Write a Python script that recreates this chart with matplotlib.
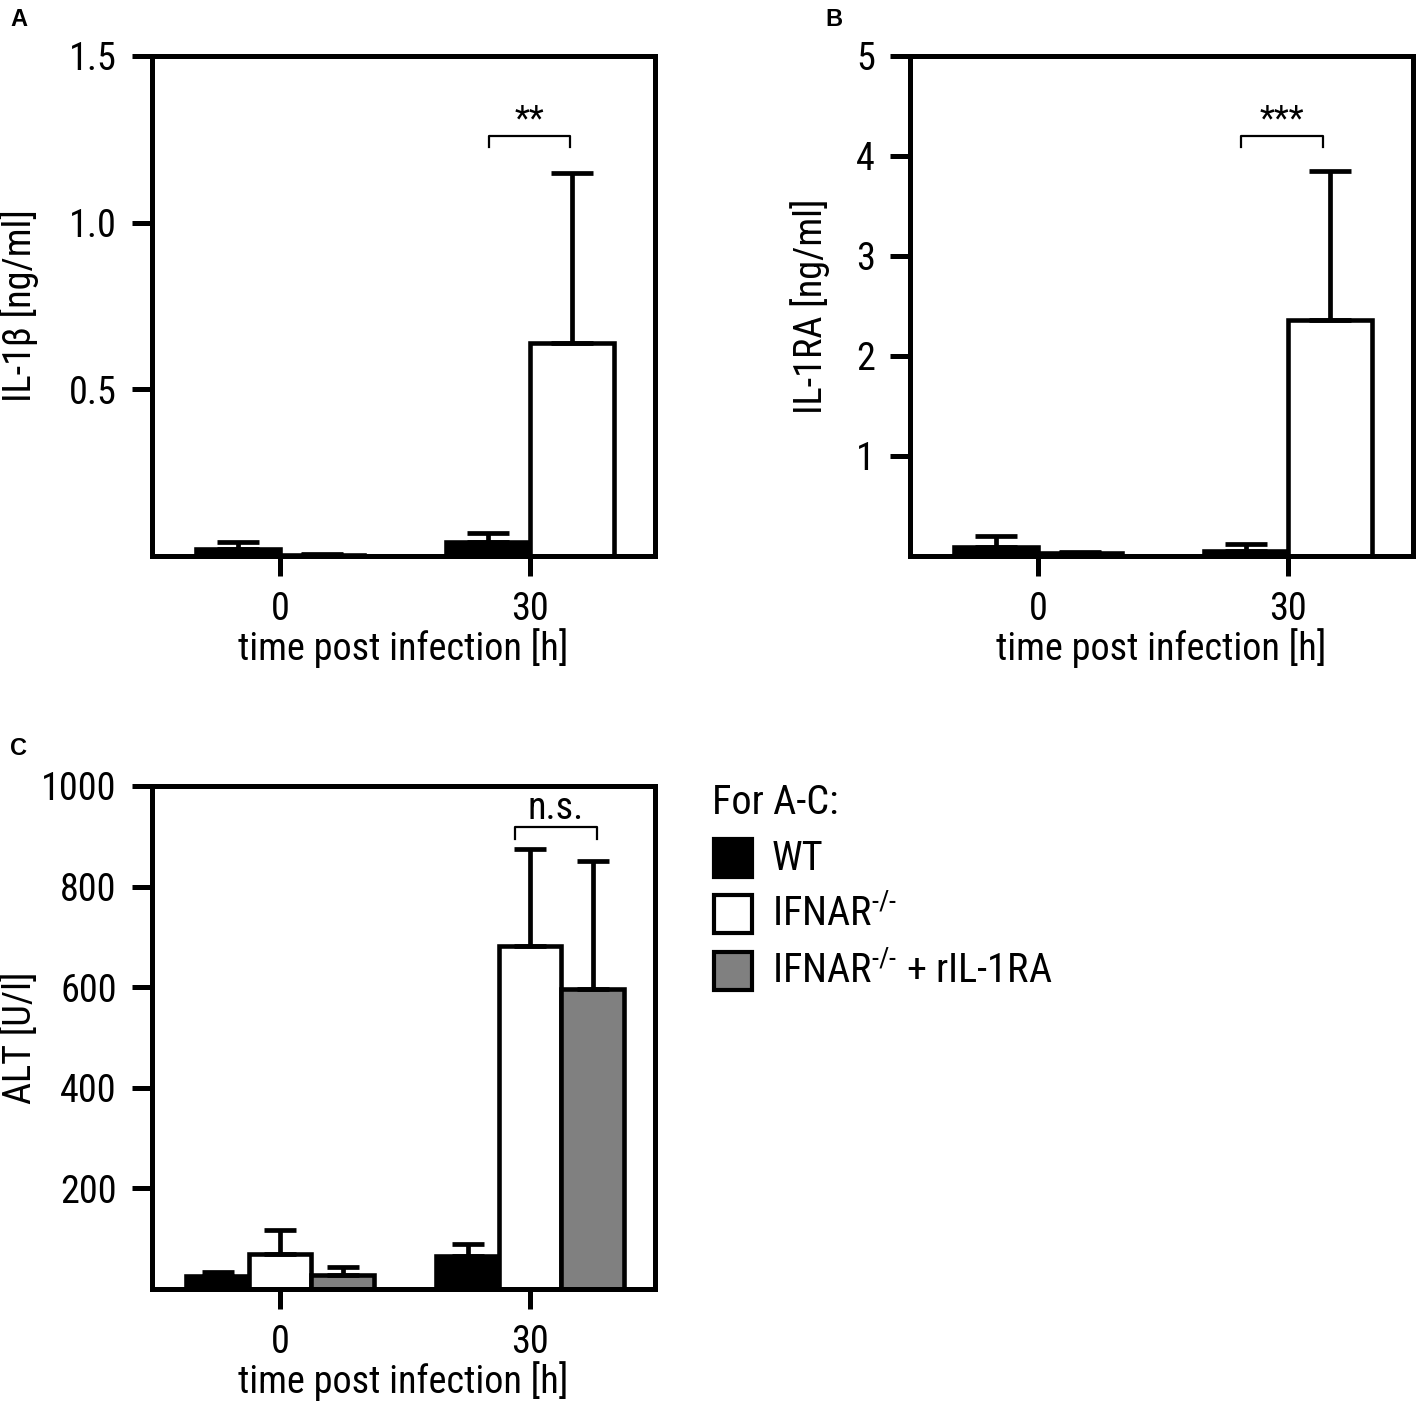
import matplotlib
matplotlib.use("Agg")
import matplotlib.pyplot as plt
from matplotlib import font_manager as fm
from matplotlib.patches import Rectangle
import numpy as np

# ---------------- data ----------------
time_labels = ["0", "30"]
groups = ["WT", r"IFNAR$^{\text{-/-}}$", r"IFNAR$^{\text{-/-}}$ + rIL-1RA"]
colors = ["black", "white", "#808080"]

il1b_wt = [0.022, 0.042]
il1b_wt_err = [0.02, 0.027]
il1b_ifnar = [0.003, 0.64]
il1b_ifnar_err = [0.004, 0.51]

il1ra_wt = [0.09, 0.055]
il1ra_wt_err = [0.11, 0.065]
il1ra_ifnar = [0.03, 2.36]
il1ra_ifnar_err = [0.01, 1.49]

alt_wt = [26, 66]
alt_wt_err = [8, 24]
alt_ifnar = [70, 682]
alt_ifnar_err = [47, 192]
alt_rescue = [27, 597]
alt_rescue_err = [16, 253]

# ---------------- fonts ----------------
names = {f.name for f in fm.fontManager.ttflist}
candidates = ["Nimbus Sans Narrow", "Liberation Sans Narrow", "Arial Narrow",
              "Roboto Condensed", "Archivo Narrow", "PT Sans Narrow",
              "Pragati Narrow", "Liberation Sans"]
narrow = next(c for c in candidates if c in names)
plt.rcParams["font.family"] = [narrow, "DejaVu Sans"]
plt.rcParams["mathtext.fontset"] = "custom"
plt.rcParams["mathtext.rm"] = narrow
plt.rcParams["mathtext.it"] = narrow
plt.rcParams["mathtext.bf"] = narrow

FS = 27.5
FS_LEG = 29
W, H = 1417, 1402
fig = plt.figure(figsize=(W / 100, H / 100), dpi=100)


def px_axes(left, top, right, bottom):
    return fig.add_axes([left / W, 1 - bottom / H, (right - left) / W, (bottom - top) / H])


def style(ax, ylim, yticks, ylabels, ylabel, ylabel_x):
    for s in ax.spines.values():
        s.set_linewidth(3.6)
        s.set_zorder(5)
    ax.set_xlim(-0.512, 1.5)
    ax.set_ylim(*ylim)
    ax.set_yticks(yticks)
    ax.set_yticklabels(ylabels)
    ax.set_xticks([0, 1])
    ax.set_xticklabels(time_labels)
    ax.tick_params(axis="both", direction="out", length=14.4, width=3.6,
                   labelsize=FS, pad=11)
    ax.tick_params(axis="x", pad=11)
    ax.set_xlabel("time post infection [h]", fontsize=FS, labelpad=0)
    ax.set_ylabel(ylabel, fontsize=FS)
    ax.yaxis.set_label_coords(ylabel_x, 0.5)


def bars(ax, xs, vals, errs, color, width, capsize):
    ax.bar(xs, vals, width=width, color=color, edgecolor="black",
           linewidth=3.3, zorder=2)
    ax.errorbar(xs, vals, yerr=[np.zeros(len(vals)), errs], fmt="none",
                ecolor="black", elinewidth=3.4, capsize=capsize, capthick=3.4,
                zorder=3)


def bracket(ax, x0, x1, ytop, leg, text, fs, dy=0):
    ax.plot([x0, x0, x1, x1], [ytop - leg, ytop, ytop, ytop - leg],
            color="black", lw=1.6, zorder=4, clip_on=False)
    ax.text((x0 + x1) / 2, ytop + dy, text, ha="center", va="bottom", fontsize=fs)


x = np.arange(len(time_labels))

# ---------------- panel A ----------------
axA = px_axes(152, 56, 655, 556)
wA = 0.336
bars(axA, x - wA / 2, il1b_wt, il1b_wt_err, colors[0], wA, 14.8)
bars(axA, x + wA / 2, il1b_ifnar, il1b_ifnar_err, colors[1], wA, 14.8)
style(axA, (0, 1.5), [0.5, 1.0, 1.5], ["0.5", "1.0", "1.5"],
      "IL-1β [ng/ml]", -0.225)
bracket(axA, 0.836, 1.16, 1.26, 0.033, "**", 25)

# ---------------- panel B ----------------
axB = px_axes(910, 56, 1413, 556)
bars(axB, x - wA / 2, il1ra_wt, il1ra_wt_err, colors[0], wA, 14.8)
bars(axB, x + wA / 2, il1ra_ifnar, il1ra_ifnar_err, colors[1], wA, 14.8)
style(axB, (0, 5), [1, 2, 3, 4, 5], ["1", "2", "3", "4", "5"],
      "IL-1RA [ng/ml]", -0.159)
bracket(axB, 0.812, 1.14, 4.2, 0.11, "***", 25)

# ---------------- panel C ----------------
axC = px_axes(152, 786, 655, 1289)
wC = 0.25
bars(axC, x - wC, alt_wt, alt_wt_err, colors[0], wC, 11.3)
bars(axC, x, alt_ifnar, alt_ifnar_err, colors[1], wC, 11.3)
bars(axC, x + wC, alt_rescue, alt_rescue_err, colors[2], wC, 11.3)
style(axC, (0, 1000), [200, 400, 600, 800, 1000],
      ["200", "400", "600", "800", "1000"], "ALT [U/l]", -0.225)
bracket(axC, 0.94, 1.268, 918, 24, "n.s.", FS)

# ---------------- panel letters ----------------
for lab, px, py in [("A", 10, 8), ("B", 825, 8), ("C", 10, 737)]:
    fig.text(px / W, 1 - py / H, lab, ha="left", va="top", fontsize=17,
             fontweight="bold", family=["Liberation Sans", "DejaVu Sans"])

# ---------------- legend ----------------
fig.text(712 / W, 1 - 803 / H, "For A-C:", ha="left", va="center", fontsize=FS_LEG)
for i, (g, c) in enumerate(zip(groups, colors)):
    yc = [858, 914, 971][i]
    fig.add_artist(Rectangle((714 / W, 1 - (yc + 19) / H), 38 / W, 38 / H,
                             transform=fig.transFigure, facecolor=c,
                             edgecolor="black", linewidth=3.0))
    fig.text(772 / W, 1 - yc / H, g, ha="left", va="center", fontsize=FS_LEG)

fig.savefig("out.png", dpi=100)
